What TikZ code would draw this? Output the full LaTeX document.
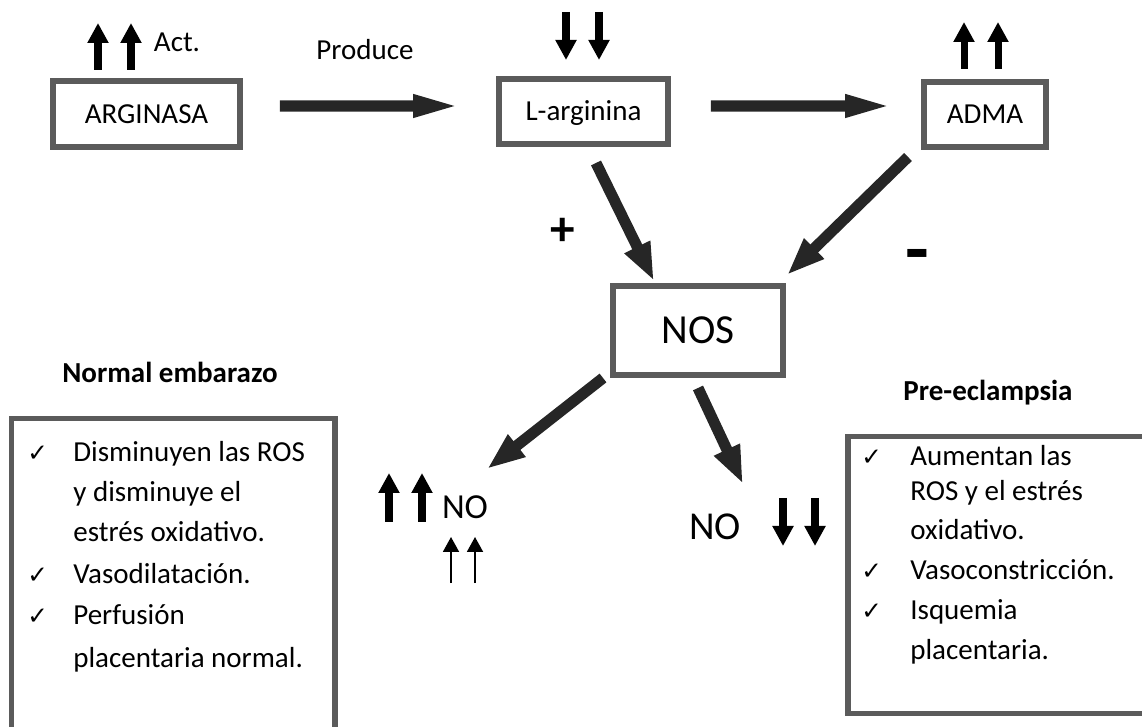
\documentclass[tikz,border=0pt]{standalone}
\usepackage{fontspec}
\setmainfont{Carlito}
\newfontfamily\symfont{DejaVu Sans}
\usetikzlibrary{arrows.meta}
\definecolor{NOBox}{HTML}{5B5B5B}
\definecolor{NOArrow}{HTML}{262626}
\newcommand{\chk}{{\symfont\fontsize{14}{14}\selectfont ✓}}

\begin{document}
\begin{tikzpicture}[x=1cm,y=1cm,
  box/.style={draw=NOBox,line width=3.4pt,inner sep=0pt,text height=10.6pt,text depth=0pt,font=\fontsize{16.5}{20}\selectfont},
  flow/.style={NOArrow,line width=6.3pt,-{Triangle[length=0.76cm,width=0.52cm]}},
  hflow/.style={NOArrow,line width=6.3pt,-{Triangle[length=1.00cm,width=0.40cm]}},
  sarrow/.style={black,line width=4pt,-{Triangle[length=0.40cm,width=0.40cm]}},
  tarrow/.style={black,line width=1.1pt,-{Triangle[length=0.30cm,width=0.32cm]}},
  frame/.style={draw=NOBox,line width=3.4pt},
  lbl/.style={inner sep=0pt,font=\fontsize{16.5}{20}\selectfont},
  item/.style={anchor=base west,inner sep=0pt,font=\fontsize{16.5}{20}\selectfont},
  head/.style={inner sep=0pt,font=\fontsize{16.5}{20}\selectfont\bfseries}]
\path[use as bounding box] (0,0) rectangle (22.84,14.52);
\clip (0,0) rectangle (22.84,14.52);
% boxes
\node[box,minimum width=3.74cm,minimum height=1.32cm] (arg) at (2.93,12.24) {ARGINASA};
\node[box,minimum width=3.38cm,minimum height=1.30cm] (larg) at (11.67,12.29) {L-arginina};
\node[box,minimum width=2.44cm,minimum height=1.30cm] (adma) at (19.70,12.23) {ADMA};
\node[box,minimum width=3.40cm,minimum height=1.78cm,text height=15.1pt,font=\fontsize{23.5}{28}\selectfont] (nos) at (13.96,7.91) {NOS};
\node[lbl,font=\fontsize{20}{24}\selectfont] (noL) at (9.30,4.38) {NO};
\node[lbl,font=\fontsize{22.5}{27}\selectfont] (noR) at (14.30,3.98) {NO};
% labels
\node[lbl] (act) at (3.54,13.68) {Act.};
\node[lbl] (prod) at (7.30,13.52) {Produce};
\node[lbl,font=\fontsize{28}{32}\selectfont\bfseries] (plus) at (11.26,9.88) {+};
\node[lbl,font=\fontsize{44}{48}\selectfont\bfseries] (minus) at (18.34,9.28) {-};
% connectors
\draw[hflow] ([xshift=0.74cm,yshift=0.16cm]arg.east) -- ([xshift=-0.66cm,yshift=0.11cm]larg.west);
\draw[hflow] ([xshift=0.80cm,yshift=0.11cm]larg.east) -- ([xshift=-0.52cm,yshift=0.17cm]adma.west);
\draw[flow] ([shift={(0.25,-0.32)}]larg.south) -- ([shift={(-0.88,0.04)}]nos.north);
\draw[flow] ([shift={(-1.54,-0.14)}]adma.south) -- ([shift={(0.02,0.16)}]nos.north east);
\draw[flow] ([shift={(-0.14,0)}]nos.south west) -- ([shift={(0.44,0.76)}]noL.center);
\draw[flow] ([shift={(0,-0.20)}]nos.south) -- ([shift={(0.56,0.86)}]noR.center);
% up and down marks
\draw[sarrow] (1.96,13.12) -- (1.96,14.06);
\draw[sarrow] (2.62,13.12) -- (2.62,14.06);
\draw[sarrow] (11.32,14.28) -- (11.32,13.32);
\draw[sarrow] (11.98,14.28) -- (11.98,13.32);
\draw[sarrow] (19.28,13.14) -- (19.28,14.08);
\draw[sarrow] (19.96,13.14) -- (19.96,14.08);
\draw[sarrow] (7.78,4.08) -- (7.78,5.06);
\draw[sarrow] (8.44,4.08) -- (8.44,5.06);
\draw[tarrow] (9.02,2.86) -- (9.02,3.78);
\draw[tarrow] (9.50,2.86) -- (9.50,3.78);
\draw[sarrow] (15.66,4.56) -- (15.66,3.60);
\draw[sarrow] (16.30,4.56) -- (16.30,3.60);
% normal embarazo
\node[head] (tnorm) at (3.40,7.08) {Normal embarazo};
\draw[frame] (0.23,-0.50) rectangle (6.70,6.15);
\node[item] (cn1) at (0.54,5.28) {\chk};
\node[item] (n1) at (1.46,5.28) {Disminuyen las ROS};
\node[item] (n2) at (1.46,4.48) {y disminuye el};
\node[item] (n3) at (1.46,3.68) {estrés oxidativo.};
\node[item] (cn2) at (0.54,2.84) {\chk};
\node[item] (n4) at (1.46,2.84) {Vasodilatación.};
\node[item] (cn3) at (0.54,2.04) {\chk};
\node[item] (n5) at (1.46,2.04) {Perfusión};
\node[item] (n6) at (1.46,1.18) {placentaria normal.};
% pre-eclampsia
\node[head] (tpre) at (19.76,6.66) {Pre-eclampsia};
\draw[frame] (16.96,0.25) rectangle (23.30,5.79);
\node[item] (cp1) at (17.22,5.20) {\chk};
\node[item] (p1) at (18.20,5.20) {Aumentan las};
\node[item] (p2) at (18.20,4.50) {ROS y el estrés};
\node[item] (p3) at (18.20,3.72) {oxidativo.};
\node[item] (cp2) at (17.22,2.92) {\chk};
\node[item] (p4) at (18.20,2.92) {Vasoconstricción.};
\node[item] (cp3) at (17.22,2.14) {\chk};
\node[item] (p5) at (18.20,2.14) {Isquemia};
\node[item] (p6) at (18.20,1.34) {placentaria.};
\end{tikzpicture}
\end{document}
